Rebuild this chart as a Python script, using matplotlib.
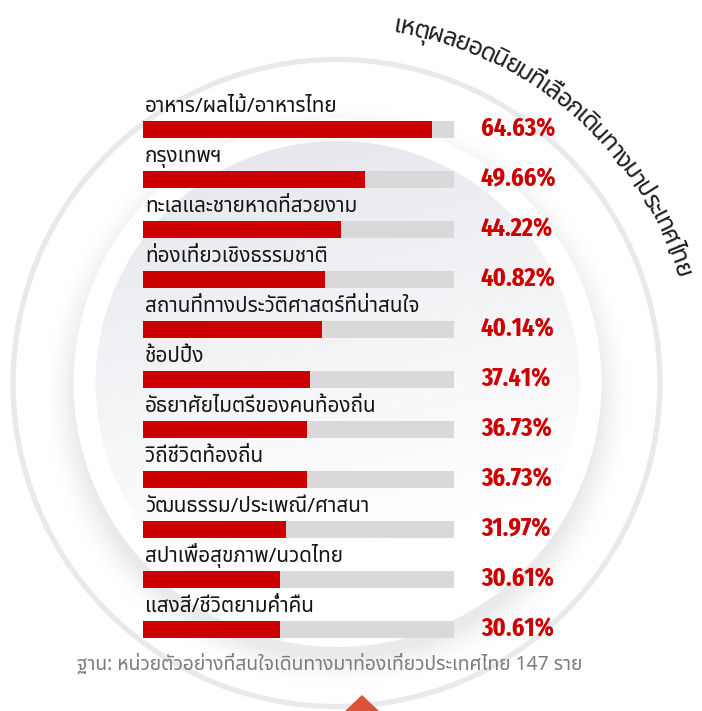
import matplotlib
matplotlib.use("Agg")
import matplotlib.pyplot as plt
from matplotlib.font_manager import FontProperties
from matplotlib.patches import Circle, Polygon
import numpy as np

LABELS = [
    "อาหาร/ผลไม้/อาหารไทย",
    "กรุงเทพฯ",
    "ทะเลและชายหาดที่สวยงาม",
    "ท่องเที่ยวเชิงธรรมชาติ",
    "สถานที่ทางประวัติศาสตร์ที่น่าสนใจ",
    "ช้อปปิ้ง",
    "อัธยาศัยไมตรีของคนท้องถิ่น",
    "วิถีชีวิตท้องถิ่น",
    "วัฒนธรรม/ประเพณี/ศาสนา",
    "สปาเพื่อสุขภาพ/นวดไทย",
    "แสงสี/ชีวิตยามค่ำคืน",
]
VALUES = [64.63, 49.66, 44.22, 40.82, 40.14, 37.41, 36.73, 36.73, 31.97, 30.61, 30.61]
TRACK_MAX = 69.6
TITLE = "เหตุผลยอดนิยมที่เลือกเดินทางมาประเทศไทย"
FOOTNOTE = "ฐาน: หน่วยตัวอย่างที่สนใจเดินทางมาท่องเที่ยวประเทศไทย 147 ราย"

THAI = ["Noto Sans Thai", "Noto Sans", "DejaVu Sans"]
NUM = ["Fira Sans Extra Condensed", "Roboto Condensed", "DejaVu Sans"]
RED = "#cc0000"
W, H = 702, 711

fig = plt.figure(figsize=(W / 100, H / 100), dpi=100)
renderer = fig.canvas.get_renderer()


def text_w(s, prop):
    return renderer.get_text_width_height_descent(s, prop, ismath=False)[0]


def fit(s, family, target, **kw):
    p = FontProperties(family=family, size=10, **kw)
    return 10 * target / text_w(s, p)


# background (pixel coordinates)
bg = fig.add_axes([0, 0, 1, 1])
bg.set_xlim(0, W)
bg.set_ylim(H, 0)
bg.axis("off")

cx, cy = 337.5, 383.0
yy, xx = np.mgrid[0:H, 0:W] + 0.5
d = np.hypot(xx - cx, yy - cy)
ds = np.hypot(xx - cx, yy - cy - 12)
shade = 0.08 * np.clip(1 - (ds - 262) / 32, 0, 1) ** 1.6
img = np.ones((H, W, 3)) * (1 - shade)[..., None]
ring = np.clip(264.5 - d, 0, 1)[..., None]
img = img * (1 - ring) + ring
t = np.clip(((xx - 95) * 0.25 + (yy - 141)) / 470, 0, 1) ** 0.9
c0 = np.array([0.890, 0.894, 0.918])
disc_col = c0[None, None, :] * (1 - t[..., None]) + t[..., None]
disc = np.clip(242.5 - d, 0, 1)[..., None]
img = img * (1 - disc) + disc_col * disc
bg.imshow(img, extent=(0, W, H, 0), interpolation="bilinear", zorder=0)
bg.add_patch(Circle((336.5, 383), 323.5, fill=False, ec="#e9e9e9", lw=3.8, zorder=1))
bg.add_patch(Polygon([(345, 711), (362, 695), (379, 711)], closed=True, fc="#d9533b", ec="none", zorder=2))

# curved title, one Thai cluster per text
COMB = set(chr(c) for c in [0x0E31] + list(range(0x0E34, 0x0E3B)) + list(range(0x0E47, 0x0E4F)))
clusters = []
for ch in TITLE:
    if ch in COMB and clusters:
        clusters[-1] += ch
    else:
        clusters.append(ch)
r_base = 355.0
a0, a1 = np.radians(9.5), np.radians(72.4)
base_p = FontProperties(family=THAI, size=10, weight="semibold")
widths = [text_w(c, base_p) for c in clusters]
target = (a1 - a0) * r_base + 0.5 * (widths[0] + widths[-1])
tsize = 10 * target / sum(widths) * 1.12
k = target / sum(widths)
widths = [w * k for w in widths]
theta = (a0 + a1) / 2 - sum(widths) / (2 * r_base)
for c, w in zip(clusters, widths):
    th = theta + (w / 2) / r_base
    bg.text(cx + r_base * np.sin(th), cy - r_base * np.cos(th), c,
            rotation=-np.degrees(th), rotation_mode="anchor",
            ha="center", va="baseline", fontsize=tsize, family=THAI,
            weight="semibold", color="#1f1f1f", zorder=3)
    theta += w / r_base

# footnote
fsize = fit(FOOTNOTE, THAI, 506, weight="medium")
bg.text(77, 670, FOOTNOTE, fontsize=fsize, family=THAI, weight="medium",
        color="#7c7c7c", ha="left", va="baseline", zorder=3)

# bars
ax = fig.add_axes([143 / W, 1 - 654 / H, (454 - 143) / W, 550 / H])
ax.patch.set_alpha(0)
ax.set_xlim(0, TRACK_MAX)
ax.set_ylim(len(LABELS) - 0.5, -0.5)
ax.axis("off")
ys = np.arange(len(LABELS))
ax.barh(ys, [TRACK_MAX] * len(ys), height=0.34, color="#d9d9d9")
ax.barh(ys, VALUES, height=0.34, color=RED)

lsize = fit(LABELS[0], THAI, 193, weight="semibold")
psize = fit("64.63%", NUM, 75, weight="bold")
for y, lab, v in zip(ys, LABELS, VALUES):
    ax.text(0.45, y - 0.33, lab, fontsize=lsize, family=THAI, weight="semibold",
            color="#151515", ha="left", va="baseline")
    ax.text(75.6, y + 0.14, f"{v:.2f}%", fontsize=psize, family=NUM, weight="bold",
            color=RED, ha="left", va="baseline", clip_on=False)

fig.savefig("out.png", dpi=100)
